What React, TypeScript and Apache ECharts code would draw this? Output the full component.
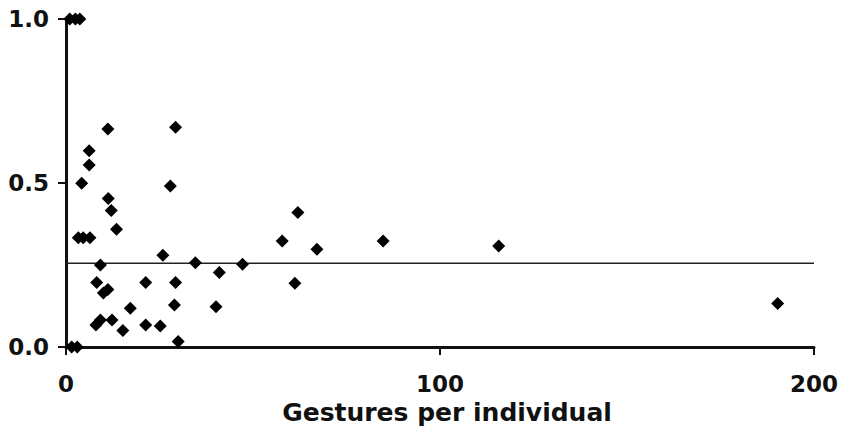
import React, { useEffect, useRef } from "react";
import * as echarts from "echarts";

const gesturesX = [
  1, 2.5, 3.7,
  4.2, 3.3, 4.6, 6.4, 6.2, 6.2, 11.2, 11.3, 12.1, 13.5,
  9.2, 8.2, 10, 11.2, 8, 9.2, 12.3, 15.2, 17.2,
  21.3, 21.3, 25.2, 25.9, 27.9, 29.3, 29.3, 29, 30,
  34.6, 41, 40.1, 47.2, 57.8, 62, 61.2, 67.1, 84.8, 115.7, 190.3,
  1.5, 3
];
const proportionY = [
  1.0, 1.0, 1.0,
  0.499, 0.333, 0.333, 0.333, 0.598, 0.555, 0.665, 0.453, 0.416, 0.359,
  0.25, 0.197, 0.165, 0.175, 0.067, 0.082, 0.082, 0.05, 0.118,
  0.197, 0.067, 0.064, 0.28, 0.491, 0.67, 0.197, 0.128, 0.017,
  0.257, 0.227, 0.123, 0.252, 0.323, 0.41, 0.194, 0.298, 0.323, 0.308, 0.133,
  0.0, 0.0
];
const meanLineX = [0, 200];
const meanValue = 0.255;
const xTicks = [0, 100, 200];
const yTicks = [0, 0.5, 1.0];
const xTitle = "Gestures per individual";

export default function App() {
  const ref = useRef<HTMLDivElement>(null);
  useEffect(() => {
    if (!ref.current) return;
    const chart = echarts.init(ref.current, null, { renderer: "svg" });
    const font = "'DejaVu Sans', Verdana, sans-serif";
    chart.setOption({
      animation: false,
      backgroundColor: "#ffffff",
      grid: { left: 66, right: 21, top: 19, bottom: 83, containLabel: false },
      xAxis: {
        type: "value",
        min: xTicks[0],
        max: xTicks[xTicks.length - 1],
        interval: 100,
        name: xTitle,
        nameLocation: "middle",
        nameGap: 48,
        nameTextStyle: {
          fontFamily: font, fontWeight: "bold", fontSize: 25, color: "#111",
          padding: [0, 0, 0, 14],
        },
        axisLine: { show: true, lineStyle: { color: "#111", width: 3 } },
        axisTick: { show: true, inside: false, length: 8, lineStyle: { color: "#111", width: 2 } },
        axisLabel: { fontFamily: font, fontWeight: "bold", fontSize: 23, color: "#111", margin: 25 },
        splitLine: { show: false },
      },
      yAxis: {
        type: "value",
        min: yTicks[0],
        max: yTicks[yTicks.length - 1],
        interval: 0.5,
        axisLine: { show: true, lineStyle: { color: "#111", width: 3 } },
        axisTick: { show: true, inside: false, length: 8, lineStyle: { color: "#111", width: 2 } },
        axisLabel: {
          fontFamily: font, fontWeight: "bold", fontSize: 23, color: "#111", margin: 17,
          formatter: (v: number) => v.toFixed(1),
        },
        splitLine: { show: false },
      },
      series: [
        {
          type: "line",
          data: meanLineX.map((x) => [x, meanValue]),
          symbol: "none",
          lineStyle: { color: "#222", width: 1.5 },
          z: 1,
        },
        {
          type: "scatter",
          data: gesturesX.map((x, i) => [x, proportionY[i]]),
          symbol: "diamond",
          symbolSize: [13, 13],
          itemStyle: { color: "#000", opacity: 1 },
          z: 3,
        },
      ],
    });
    return () => chart.dispose();
  }, []);
  return (
    <div
      ref={ref}
      style={{ position: "absolute", left: 0, top: 0, width: 841, height: 430, overflow: "hidden" }}
    />
  );
}
